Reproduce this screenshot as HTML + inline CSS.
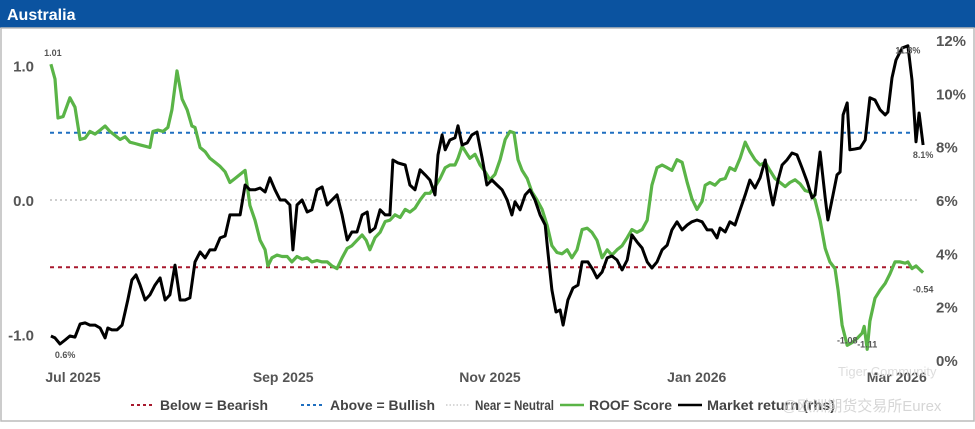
<!DOCTYPE html>
<html><head><meta charset="utf-8"><style>
body{margin:0;width:975px;height:424px;background:#fff;overflow:hidden;font-family:"Liberation Sans","Noto Sans CJK SC",sans-serif}
</style></head><body>
<svg id="c" width="975" height="424" viewBox="0 0 975 424" xmlns="http://www.w3.org/2000/svg">
<rect x="0" y="0" width="975" height="424" fill="#fff"/>
<rect x="0" y="0" width="975" height="28" fill="#0b53a0"/>
<text x="7" y="20" fill="#fff" font-size="16" font-weight="bold">Australia</text>
<rect x="1" y="28" width="973" height="393" fill="none" stroke="#bbb" stroke-width="1.5"/>
<g id="lyr"></g>
</svg>
<script>
const roofDays=[-7.7,-6.5,-5.6,-4.1,-2.1,-0.6,0.9,2.4,3.8,5.3,6.8,8.3,9.7,11.2,12.7,14.2,15.6,17.1,18.6,20.1,21.5,22.4,23.9,25.4,26.8,28.0,29.5,31.0,32.5,33.9,34.8,36.3,37.8,39.2,40.7,42.2,43.7,45.1,46.6,48.1,49.6,51.0,52.5,54.0,55.5,56.3,57.5,59.0,60.5,62.0,63.4,64.9,66.4,67.9,69.3,70.8,72.3,73.8,75.2,76.7,78.2,79.7,81.1,82.6,84.1,85.3,86.4,87.9,89.4,90.9,92.3,93.8,95.3,96.8,98.2,99.7,101.2,102.7,104.1,105.6,107.1,108.6,110.0,111.5,112.4,113.6,115.1,115.9,117.4,118.9,120.4,121.8,123.3,124.8,126.3,127.7,128.9,130.1,131.3,132.8,134.2,135.7,137.2,138.7,140.1,141.6,143.1,144.6,146.0,147.5,149.0,150.5,151.9,153.4,154.9,156.4,157.8,159.3,160.8,162.3,163.7,165.2,166.7,168.2,169.6,171.1,172.6,174.1,175.5,177.0,178.5,180.0,181.4,182.9,184.4,185.3,186.7,188.2,189.7,191.2,192.6,194.1,195.6,197.1,198.5,200.0,201.5,203.0,204.4,205.9,207.4,208.9,210.3,211.8,213.3,214.8,216.2,217.7,219.2,220.7,222.1,223.6,224.5,225.7,227.2,228.6,230.1,231.6,232.2,233.1,233.9,235.4,236.9,238.4,239.8,241.3,242.8,244.3,245.1,246.3,247.5,248.7,249.6];
const roofScore=[1.01,0.90,0.61,0.62,0.76,0.69,0.45,0.46,0.51,0.49,0.52,0.55,0.51,0.48,0.45,0.47,0.43,0.42,0.41,0.40,0.39,0.51,0.52,0.51,0.54,0.67,0.96,0.75,0.67,0.55,0.54,0.39,0.36,0.31,0.28,0.25,0.21,0.13,0.16,0.19,0.22,-0.04,-0.15,-0.30,-0.37,-0.49,-0.43,-0.41,-0.42,-0.42,-0.46,-0.42,-0.44,-0.43,-0.46,-0.45,-0.46,-0.46,-0.49,-0.51,-0.43,-0.36,-0.34,-0.30,-0.26,-0.30,-0.37,-0.28,-0.24,-0.16,-0.15,-0.11,-0.13,-0.07,-0.09,-0.06,0.00,0.05,0.05,0.10,0.16,0.24,0.26,0.26,0.31,0.40,0.34,0.31,0.34,0.26,0.21,0.15,0.19,0.30,0.45,0.51,0.50,0.30,0.22,0.16,0.06,0.00,-0.07,-0.19,-0.34,-0.39,-0.40,-0.37,-0.43,-0.37,-0.22,-0.21,-0.24,-0.30,-0.43,-0.37,-0.41,-0.37,-0.34,-0.28,-0.22,-0.24,-0.22,-0.15,0.11,0.24,0.26,0.24,0.22,0.30,0.28,0.13,0.01,-0.07,-0.01,0.11,0.13,0.11,0.15,0.16,0.24,0.22,0.31,0.43,0.36,0.30,0.26,0.28,0.22,0.16,0.13,0.10,0.13,0.15,0.12,0.07,0.06,0.00,-0.15,-0.36,-0.46,-0.51,-0.67,-0.93,-1.08,-1.06,-1.03,-0.99,-0.94,-1.11,-0.90,-0.73,-0.67,-0.62,-0.55,-0.46,-0.46,-0.47,-0.46,-0.51,-0.49,-0.52,-0.54];
const mktDays=[-7.7,-6.5,-5.0,-3.5,-2.1,-0.6,0.9,2.4,3.8,5.3,6.8,8.3,9.1,10.3,11.8,13.3,14.2,15.0,16.2,17.4,18.6,20.1,21.5,23.0,24.5,26.0,27.4,28.9,30.4,31.9,33.3,34.8,36.3,37.8,39.2,40.7,42.2,43.7,45.1,46.6,48.1,49.6,51.0,52.5,54.0,55.5,56.9,58.4,59.9,61.4,62.8,63.7,64.9,66.4,67.9,69.3,70.8,72.3,73.8,75.2,76.7,78.2,79.7,81.1,82.6,84.1,85.6,86.4,87.9,89.4,90.9,92.3,93.2,94.7,96.8,98.2,99.7,101.2,102.7,104.1,105.6,106.5,107.7,108.6,110.0,111.5,112.4,113.6,115.1,116.5,118.0,119.5,120.9,122.4,123.9,125.4,126.9,128.3,129.2,130.7,132.2,133.6,135.1,136.6,138.1,138.9,140.1,141.3,142.5,143.4,144.8,146.3,147.8,149.0,150.7,152.2,153.4,154.9,156.4,157.8,159.3,160.8,162.3,163.7,165.2,166.7,168.2,169.6,171.1,172.6,174.1,175.5,177.0,178.5,180.0,181.4,182.9,184.4,185.9,187.3,188.8,189.7,191.2,192.6,194.1,195.6,197.1,198.5,200.0,201.5,203.0,204.4,205.3,206.8,208.0,209.4,210.9,212.4,213.9,215.4,216.8,217.7,219.2,220.7,221.5,222.7,224.2,225.1,226.0,227.2,228.0,229.5,231.0,232.5,233.9,235.4,236.9,238.4,239.2,240.4,241.6,243.4,245.1,246.3,247.5,248.4,249.6];
const mktReturn=[0.90,0.83,0.60,0.75,0.90,0.86,1.35,1.39,1.31,1.31,1.20,0.83,1.20,1.13,1.13,1.31,1.80,2.25,3.00,3.19,2.81,2.25,2.44,2.81,3.08,2.25,2.44,3.56,2.25,2.25,2.33,3.68,4.05,3.83,4.13,4.13,4.58,4.65,5.44,5.44,5.44,6.56,6.38,6.38,6.45,6.30,6.83,6.38,6.00,6.00,5.81,4.13,5.81,6.00,5.55,5.63,6.38,6.49,5.81,6.00,6.19,5.44,4.50,4.80,4.80,5.44,5.55,4.80,4.95,5.63,5.44,5.44,7.50,7.39,7.31,6.56,6.38,7.13,6.94,6.75,6.19,7.69,8.44,7.88,8.25,8.33,8.78,8.06,8.14,8.44,8.55,7.58,6.56,6.75,6.56,6.38,6.00,5.44,5.93,5.63,6.19,6.38,6.00,5.44,5.06,4.05,2.63,1.80,1.88,1.31,2.25,2.70,2.81,3.68,3.68,3.38,3.08,3.30,3.83,3.90,3.75,3.38,3.75,4.69,4.43,4.20,3.68,3.45,3.68,4.13,4.31,4.88,5.18,4.88,5.06,5.18,5.25,5.18,4.88,4.88,4.58,4.95,4.80,5.18,5.06,5.63,6.19,6.75,6.45,6.83,7.50,6.38,5.81,6.75,7.31,7.50,7.76,7.69,7.20,6.68,6.08,6.19,7.80,6.08,5.25,6.00,6.94,7.05,9.19,9.64,7.88,7.91,7.95,8.25,9.83,9.75,9.38,9.19,9.30,10.58,11.25,11.70,11.78,10.50,8.18,9.26,8.06];
const leftTicks=[1.0,0.0,-1.0];
const leftTickLabels=["1.0","0.0","-1.0"];
const rightTicks=[0,2,4,6,8,10,12];
const xTickDays=[0,62,123,184,243];
const xTickLabels=["Jul 2025","Sep 2025","Nov 2025","Jan 2026","Mar 2026"];
const refLevels=[0.5,0.0,-0.5];
const roofAnnot=[[-7.7,1.01,"1.01"],[227.2,-1.08,"-1.08"],[233.1,-1.11,"-1.11"],[249.6,-0.54,"-0.54"]];
const mktAnnot=[[-3.5,0.6,"0.6%"],[245.1,11.8,"11.8%"],[249.6,8.1,"8.1%"]];

const NS="http://www.w3.org/2000/svg";
const L=document.getElementById('lyr');
const xS=d=>77+d*3.39;
const yL=v=>200-v*134.5;
const yR=p=>360-p*26.67;
function mk(tag,attrs,parent){const e=document.createElementNS(NS,tag);for(const k in attrs)e.setAttribute(k,attrs[k]);(parent||L).appendChild(e);return e;}

const refCol=["#1f6fc0","#b0b0b0","#a8192e"];
const refDash=["4,4","2,3","4,4"];
refLevels.forEach((v,i)=>{
  const e=mk('line',{x1:50,x2:918,y1:yL(v),y2:yL(v),stroke:refCol[i],'stroke-width':i==1?1.2:2,'stroke-dasharray':refDash[i]});
  
  
});
leftTicks.forEach((v,i)=>{
  const t=mk('text',{x:34,y:yL(v)+6,'text-anchor':'end','font-size':15,'font-weight':'bold',fill:'#555'});
  t.textContent=leftTickLabels[i];
  
  
});
rightTicks.forEach(v=>{
  const t=mk('text',{x:936,y:yR(v)+6,'font-size':15,'font-weight':'bold',fill:'#555'});
  t.textContent=v+'%';
  
  
});
xTickDays.forEach((d,i)=>{
  const t=mk('text',{x:xS(d)-4,y:382,'text-anchor':'middle','font-size':14,'font-weight':'bold',fill:'#555'});
  t.textContent=xTickLabels[i];
  
  
});
const gp=mk('polyline',{points:roofDays.map((d,i)=>xS(d).toFixed(1)+','+yL(roofScore[i]).toFixed(1)).join(' '),fill:'none',stroke:'#5ab447','stroke-width':3.2,'stroke-linejoin':'round'});


const bp=mk('polyline',{points:mktDays.map((d,i)=>xS(d).toFixed(1)+','+yR(mktReturn[i]).toFixed(1)).join(' '),fill:'none',stroke:'#000','stroke-width':3,'stroke-linejoin':'round'});


roofAnnot.forEach(a=>{
  const t=mk('text',{x:xS(a[0])+(a[1]>0?2:0),y:a[1]>0?yL(a[1])-8:yL(a[1])+(a[2]=="-0.54"?20:-2),'text-anchor':'middle','font-size':9,'font-weight':'bold',fill:'#555'});
  t.textContent=a[2];
  
  
});
mktAnnot.forEach(a=>{
  const t=mk('text',{x:xS(a[0]),y:yR(a[1])+(a[2]=="11.8%"?8:14),'text-anchor':'middle','font-size':9,'font-weight':'bold',fill:'#555'});
  t.textContent=a[2];
  
  
});
const legItems=[["Below = Bearish","#a8192e","3,3",2,131,108],["Above = Bullish","#1f6fc0","3,3",2,301,105],["Near = Neutral","#c0c0c0","1.5,2",1.2,446,79],["ROOF Score","#5ab447","",2.5,560,83],["Market return (rhs)","#000","",2.5,678,128]];
legItems.forEach(it=>{
  const g=mk('g',{});
  
  
  mk('line',{x1:it[4],x2:it[4]+24,y1:405,y2:405,stroke:it[1],'stroke-width':it[3],'stroke-dasharray':it[2]},g);
  const t=mk('text',{x:it[4]+29,y:410,'font-size':14,'font-weight':'bold',fill:'#444',textLength:it[5],lengthAdjust:'spacingAndGlyphs'},g);
  t.textContent=it[0];
});
const w=mk('text',{x:782,y:411,'font-size':15,fill:'#ccc',opacity:0.8});
w.textContent='@欧洲期货交易所Eurex';


const w2=mk('text',{x:838,y:376,'font-size':13,fill:'#ddd'});
w2.textContent='Tiger Community';


</script>
</body></html>
